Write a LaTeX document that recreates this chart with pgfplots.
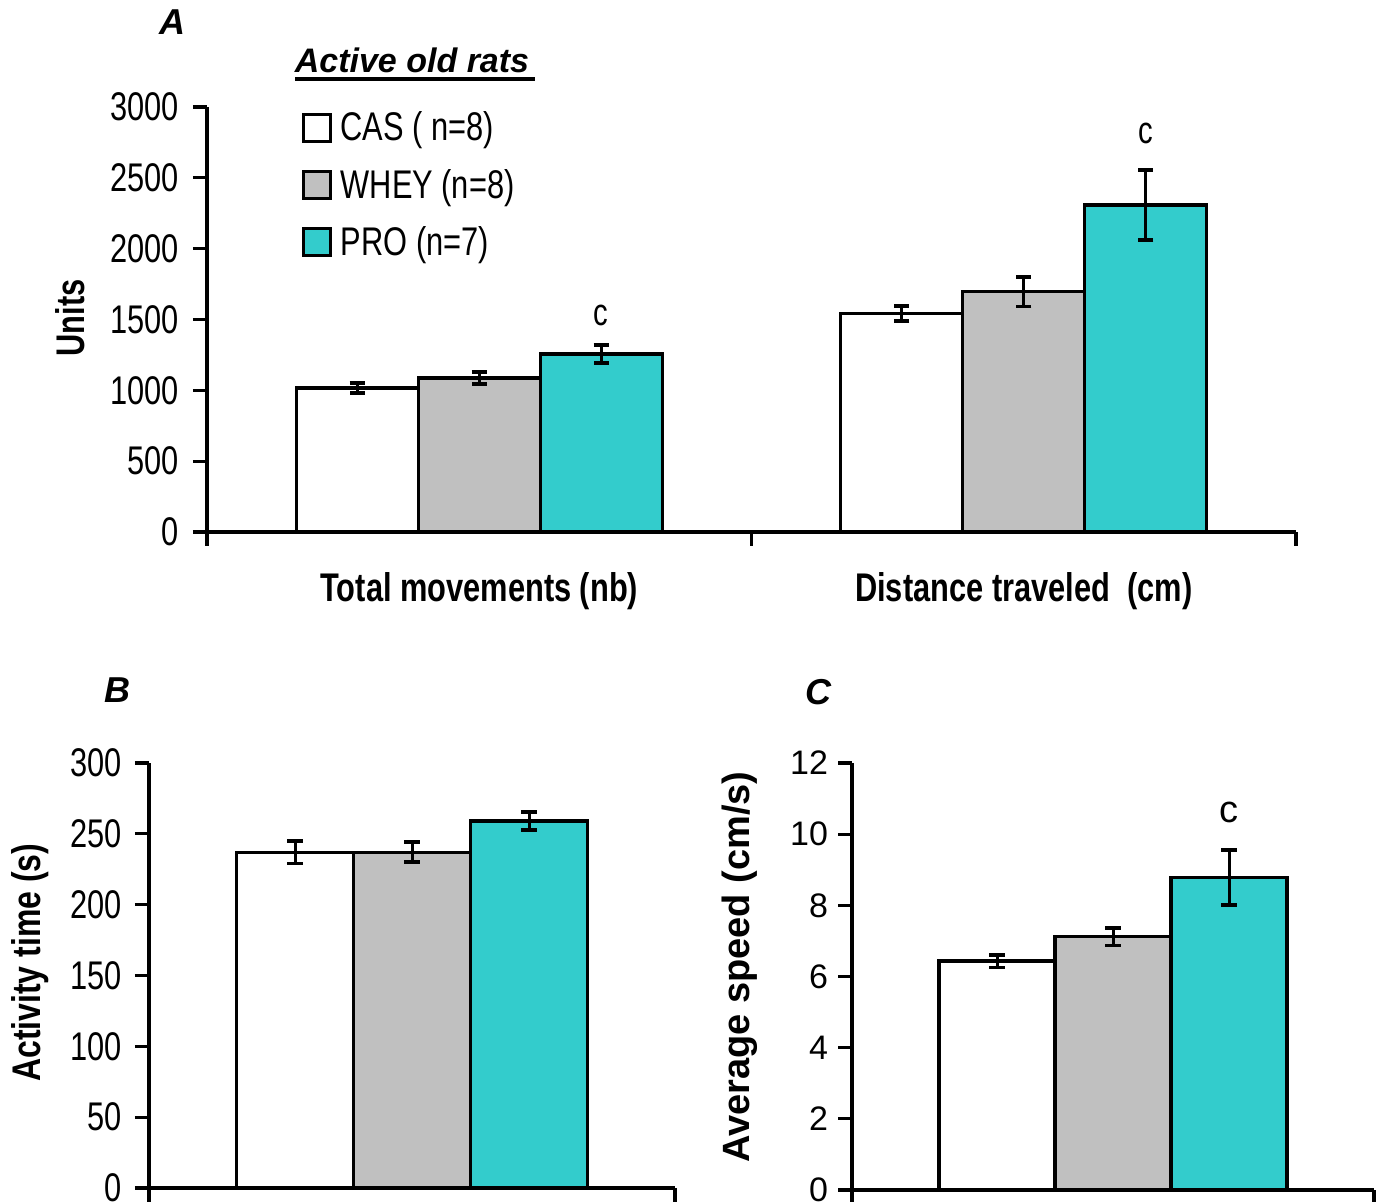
\documentclass[border=0pt]{standalone}
\usepackage{fontspec}
\setmainfont{Liberation Sans}
\newfontfamily\nar[FakeStretch=0.77]{Liberation Sans}
\newfontfamily\narb[FakeStretch=0.8]{Liberation Sans}
\usepackage{pgfplots}
\pgfplotsset{compat=1.18}
\definecolor{tealc}{RGB}{51,204,204}
\definecolor{grayc}{RGB}{192,192,192}

\pgfplotsset{
  panel/.style={
    scale only axis,
    axis x line=bottom, axis y line=left,
    axis line style={-, line width=1.8pt, black},
    ybar=0pt, ymin=0,
    scaled y ticks=false,
    /pgf/number format/1000 sep={},
    /pgf/number format/assume math mode=true,
    tick style={line width=1.6pt, black},
    major tick length=7pt,
    tick align=outside,
    xticklabels={},
    clip=false,
  },
  bars/.style={draw=black, line width=1.7pt,
    error bars/y dir=both, error bars/y explicit,
    error bars/error bar style={line width=1.5pt, black},
    error bars/error mark options={rotate=90, line width=1.9pt, mark size=3.8pt, black},
    legend image code/.code={\draw[##1, line width=1.5pt, draw=black] (0pt,-6.75pt) rectangle (13.5pt,6.75pt);}},
}

\begin{document}
\begin{tikzpicture}
\useasboundingbox (0,0) rectangle (691pt,601pt);

% ---------- Panel A ----------
\begin{axis}[panel,
  at={(103.5pt,335pt)}, anchor=south west,
  width=544.5pt, height=212.5pt,
  xmin=-0.5, xmax=1.5, xtick={-0.5,0.5,1.5},
  ymax=3000, ytick={0,500,1000,1500,2000,2500,3000},
  bar width=61pt,
  yticklabel style={font=\nar\fontsize{20}{24}\selectfont, xshift=-3.5pt},
  ylabel={\nar\bfseries\fontsize{20}{24}\selectfont Units},
  ylabel style={at={(axis description cs:-0.126,0.504)}, anchor=center},
  legend style={at={(axis description cs:0.087,1.002)}, anchor=north west,
    draw=none, fill=none, inner sep=0pt, row sep=7.75pt,
    font=\nar\fontsize{20}{24}\selectfont,
    nodes={inner sep=2.5pt},
    /tikz/every odd column/.append style={column sep=1.8pt}},
  legend cell align=left,
]
\addplot[bars, fill=white] coordinates {(0,1016) +- (0,35) (1,1544) +- (0,53)};
\addlegendentry{CAS ( n=8)}
\addplot[bars, fill=grayc] coordinates {(0,1087) +- (0,45) (1,1696) +- (0,105)};
\addlegendentry{WHEY (n=8)}
\addplot[bars, fill=tealc] coordinates {(0,1256) +- (0,65) (1,2308) +- (0,247)};
\addlegendentry{PRO (n=7)}
\node[font=\nar\bfseries\fontsize{20}{24}\selectfont] at (axis cs:0,0) [yshift=-29.5pt] {Total movements (nb)};
\node[font=\nar\bfseries\fontsize{20}{24}\selectfont] at (axis cs:1,0) [yshift=-29.5pt] {Distance traveled\ \ (cm)};
\node[font=\nar\fontsize{19}{22}\selectfont] at (axis cs:0.224,1525) {c};
\node[font=\nar\fontsize{19}{22}\selectfont] at (axis cs:1.224,2816) {c};
\end{axis}

\node[font=\bfseries\itshape\fontsize{17}{20}\selectfont] at (206pt,571pt) {Active old rats};
\draw[line width=1.6pt] (147.5pt,561.5pt) -- (267.5pt,561.5pt);
\node[font=\bfseries\itshape\fontsize{18}{21}\selectfont] at (86pt,590pt) {A};

% ---------- Panel B ----------
\begin{axis}[panel,
  at={(74.5pt,7pt)}, anchor=south west,
  width=263pt, height=212.5pt,
  xmin=-0.5, xmax=0.5, xtick={-0.5,0.5},
  ymax=300, ytick={0,50,100,150,200,250,300},
  bar width=58.5pt,
  yticklabel style={font=\nar\fontsize{20}{24}\selectfont, xshift=-3pt},
  ylabel={\narb\bfseries\fontsize{20}{24}\selectfont Activity time (s)},
  ylabel style={at={(axis description cs:-0.226,0.53)}, anchor=center},
]
\addplot[bars, fill=white] coordinates {(0,237) +- (0,8)};
\addplot[bars, fill=grayc] coordinates {(0,237) +- (0,7)};
\addplot[bars, fill=tealc] coordinates {(0,259) +- (0,6.5)};
\end{axis}
\node[font=\bfseries\itshape\fontsize{18}{21}\selectfont] at (58.5pt,256pt) {B};

% ---------- Panel C ----------
\begin{axis}[panel,
  at={(426pt,6pt)}, anchor=south west,
  width=261pt, height=213.5pt,
  xmin=-0.5, xmax=0.5, xtick={-0.5,0.5},
  ymax=12, ytick={0,2,4,6,8,10,12},
  bar width=58pt,
  yticklabel style={font=\fontsize{17}{20}\selectfont, xshift=-1.5pt},
  ylabel={\bfseries\fontsize{19}{22}\selectfont Average speed (cm/s)},
  ylabel style={at={(axis description cs:-0.215,0.522)}, anchor=center},
]
\addplot[bars, fill=white] coordinates {(0,6.43) +- (0,0.18)};
\addplot[bars, fill=grayc] coordinates {(0,7.12) +- (0,0.25)};
\addplot[bars, fill=tealc] coordinates {(0,8.78) +- (0,0.78)};
\node[font=\fontsize{19}{22}\selectfont] at (axis cs:0.222,10.6) {c};
\end{axis}
\node[font=\bfseries\itshape\fontsize{18}{21}\selectfont] at (409pt,255pt) {C};
\end{tikzpicture}
\end{document}
